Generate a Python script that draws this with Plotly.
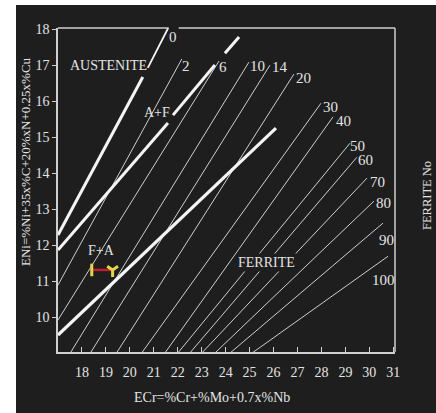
import plotly.graph_objects as go

BG = "#1e1e1e"
INK = "#e4e4e4"
THIN = "#cfcfcf"
THICK = "#f4f4f4"
SERIF = "Liberation Serif"

# Axis ticks
x_ticks = list(range(18, 32))
y_ticks = list(range(10, 19))

# Iso-ferrite-number lines: start (ECr, ENi) and end beside the label
fn_values = [2, 6, 10, 14, 20, 30, 40, 50, 60, 70, 80, 90, 100]
fn_ecr_start = [17.0, 17.0, 17.51, 18.35, 19.44, 20.49, 21.46, 22.0, 22.5, 23.0, 23.55, 24.18, 25.1]
fn_eni_start = [10.89, 9.92, 9.0, 9.0, 9.0, 9.0, 9.0, 9.0, 9.0, 9.0, 9.0, 9.0, 9.0]
fn_ecr_end = [22.17, 23.72, 24.97, 25.85, 26.85, 27.98, 28.48, 29.19, 29.48, 29.90, 30.19, 30.57, 30.78]
fn_eni_end = [17.17, 17.11, 17.08, 17.00, 16.75, 15.94, 15.56, 14.83, 14.44, 13.86, 13.22, 12.61, 11.69]
fn_label_ecr = [22.34, 23.89, 25.31, 26.27, 27.27, 28.36, 28.91, 29.49, 29.83, 30.33, 30.58, 30.71, 30.58]
fn_label_eni = [16.97, 16.94, 16.97, 16.94, 16.64, 15.83, 15.44, 14.75, 14.36, 13.75, 13.17, 12.14, 11.03]

# FN 0 line (austenite boundary): thick lower part, lighter upper part
fn0_ecr = [17.0, 20.54]
fn0_eni = [12.28, 16.67]
fn0_top_ecr = [20.75, 21.6]
fn0_top_eni = [16.92, 18.03]
fn0_label = (21.8, 17.78)

# A+F / F+A boundary, drawn in pieces around the labels
af_ecr = [[17.0, 21.59], [21.80, 23.55], [23.97, 24.56]]
af_eni = [[11.86, 15.39], [15.61, 17.00], [17.33, 17.78]]

# F+A / ferrite boundary
fa_ecr = [17.0, 26.1]
fa_eni = [9.5, 15.25]

# Dilution tie line between the two metals
tie_ecr = [18.41, 19.28]
tie_eni = [11.31, 11.31]

# Region names
regions = ["AUSTENITE", "A+F", "F+A", "FERRITE"]
region_ecr = [19.12, 21.13, 18.82, 25.69]
region_eni = [17.0, 15.67, 11.86, 11.53]

fig = go.Figure()

for v, x0, y0, x1, y1 in zip(fn_values, fn_ecr_start, fn_eni_start, fn_ecr_end, fn_eni_end):
    fig.add_trace(go.Scatter(x=[x0, x1], y=[y0, y1], mode="lines",
                             line=dict(color=THIN, width=1), hoverinfo="skip",
                             name=f"FN {v}"))

fig.add_trace(go.Scatter(x=fn0_ecr, y=fn0_eni, mode="lines",
                         line=dict(color=THICK, width=3), hoverinfo="skip"))
fig.add_trace(go.Scatter(x=fn0_top_ecr, y=fn0_top_eni, mode="lines",
                         line=dict(color=THICK, width=1.8), hoverinfo="skip"))
for xs, ys in zip(af_ecr, af_eni):
    fig.add_trace(go.Scatter(x=xs, y=ys, mode="lines",
                             line=dict(color=THICK, width=3), hoverinfo="skip"))
fig.add_trace(go.Scatter(x=fa_ecr, y=fa_eni, mode="lines",
                         line=dict(color=THICK, width=3.2), hoverinfo="skip"))

fig.add_trace(go.Scatter(x=tie_ecr, y=tie_eni, mode="lines",
                         line=dict(color="#c0202a", width=2.5), hoverinfo="skip"))
fig.add_trace(go.Scatter(x=tie_ecr, y=tie_eni, mode="markers",
                         marker=dict(symbol=["line-ns", "y-down"], size=9, color="#e8d44a",
                                     line=dict(color="#e8d44a", width=3)),
                         hoverinfo="skip"))

annotations = []
for v, x, y in zip(fn_values, fn_label_ecr, fn_label_eni):
    annotations.append(dict(x=x, y=y, xref="x", yref="y", text=str(v), showarrow=False,
                            xanchor="center", yanchor="middle",
                            font=dict(family=SERIF, size=15, color=INK)))
annotations.append(dict(x=fn0_label[0], y=fn0_label[1], xref="x", yref="y", text="0",
                        showarrow=False, xanchor="center", yanchor="middle",
                        font=dict(family=SERIF, size=15, color=INK)))
for t, x, y in zip(regions, region_ecr, region_eni):
    annotations.append(dict(x=x, y=y, xref="x", yref="y", text=t, showarrow=False,
                            xanchor="center", yanchor="middle",
                            bgcolor=BG if t == "FERRITE" else None,
                            font=dict(family=SERIF, size=14, color=INK)))

annotations.append(dict(text="ECr=%Cr+%Mo+0.7x%Nb", xref="paper", yref="paper",
                        x=(212 - 58) / 337, y=(352 - 397) / 324, showarrow=False,
                        xanchor="center", yanchor="middle",
                        font=dict(family=SERIF, size=14, color=INK)))
annotations.append(dict(text="ENi=%Ni+35x%C+20%xN+0.25x%Cu", xref="paper", yref="paper",
                        x=(26 - 58) / 337, y=(352 - 162) / 324, showarrow=False,
                        textangle=-90, xanchor="center", yanchor="middle",
                        font=dict(family=SERIF, size=13, color=INK)))
annotations.append(dict(text="FERRITE No", xref="paper", yref="paper",
                        x=(427 - 58) / 337, y=(352 - 196) / 324, showarrow=False,
                        textangle=-90, xanchor="center", yanchor="middle",
                        font=dict(family=SERIF, size=12.5, color=INK)))
fig.update_layout(annotations=annotations)

FRAME = "#cfcfcf"
shapes = [
    # white outer border
    dict(type="rect", xref="paper", yref="paper", x0=-0.3, x1=(16 - 58) / 337,
         y0=-0.3, y1=1.3, fillcolor="white", line=dict(width=0), layer="below"),
    dict(type="rect", xref="paper", yref="paper", x0=-0.3, x1=1.3,
         y0=(352 - 5) / 324, y1=1.3, fillcolor="white", line=dict(width=0), layer="below"),
    # top frame, broken at the FN 0 label
    dict(type="line", xref="x", yref="paper", x0=17, x1=21.62, y0=1, y1=1,
         line=dict(color=FRAME, width=1.5)),
    dict(type="line", xref="x", yref="paper", x0=22.04, x1=31.07, y0=1, y1=1,
         line=dict(color=FRAME, width=1.5)),
    dict(type="line", xref="paper", yref="paper", x0=1, x1=1, y0=0, y1=1,
         line=dict(color=FRAME, width=1.5)),
]
fig.update_layout(shapes=shapes)

fig.update_xaxes(range=[17, 31.07], tickvals=x_ticks, ticktext=[str(v) for v in x_ticks],
                 showgrid=False, zeroline=False, showline=True, linecolor=FRAME, linewidth=1.5,
                 ticks="inside", ticklen=5, tickcolor=FRAME, tickwidth=1.2,
                 ticklabelstandoff=6,
                 tickfont=dict(family=SERIF, size=14, color=INK))
fig.update_yaxes(range=[9.03, 18.03], tickvals=y_ticks, ticktext=[str(v) for v in y_ticks],
                 showgrid=False, zeroline=False, showline=True, linecolor=FRAME, linewidth=1.5,
                 ticks="outside", ticklen=4, tickcolor=FRAME, tickwidth=1.2,
                 tickfont=dict(family=SERIF, size=14, color=INK))

fig.update_layout(width=436, height=413, margin=dict(l=58, r=41, t=28, b=61),
                  paper_bgcolor=BG, plot_bgcolor=BG, showlegend=False)

fig.write_html("out.html")
